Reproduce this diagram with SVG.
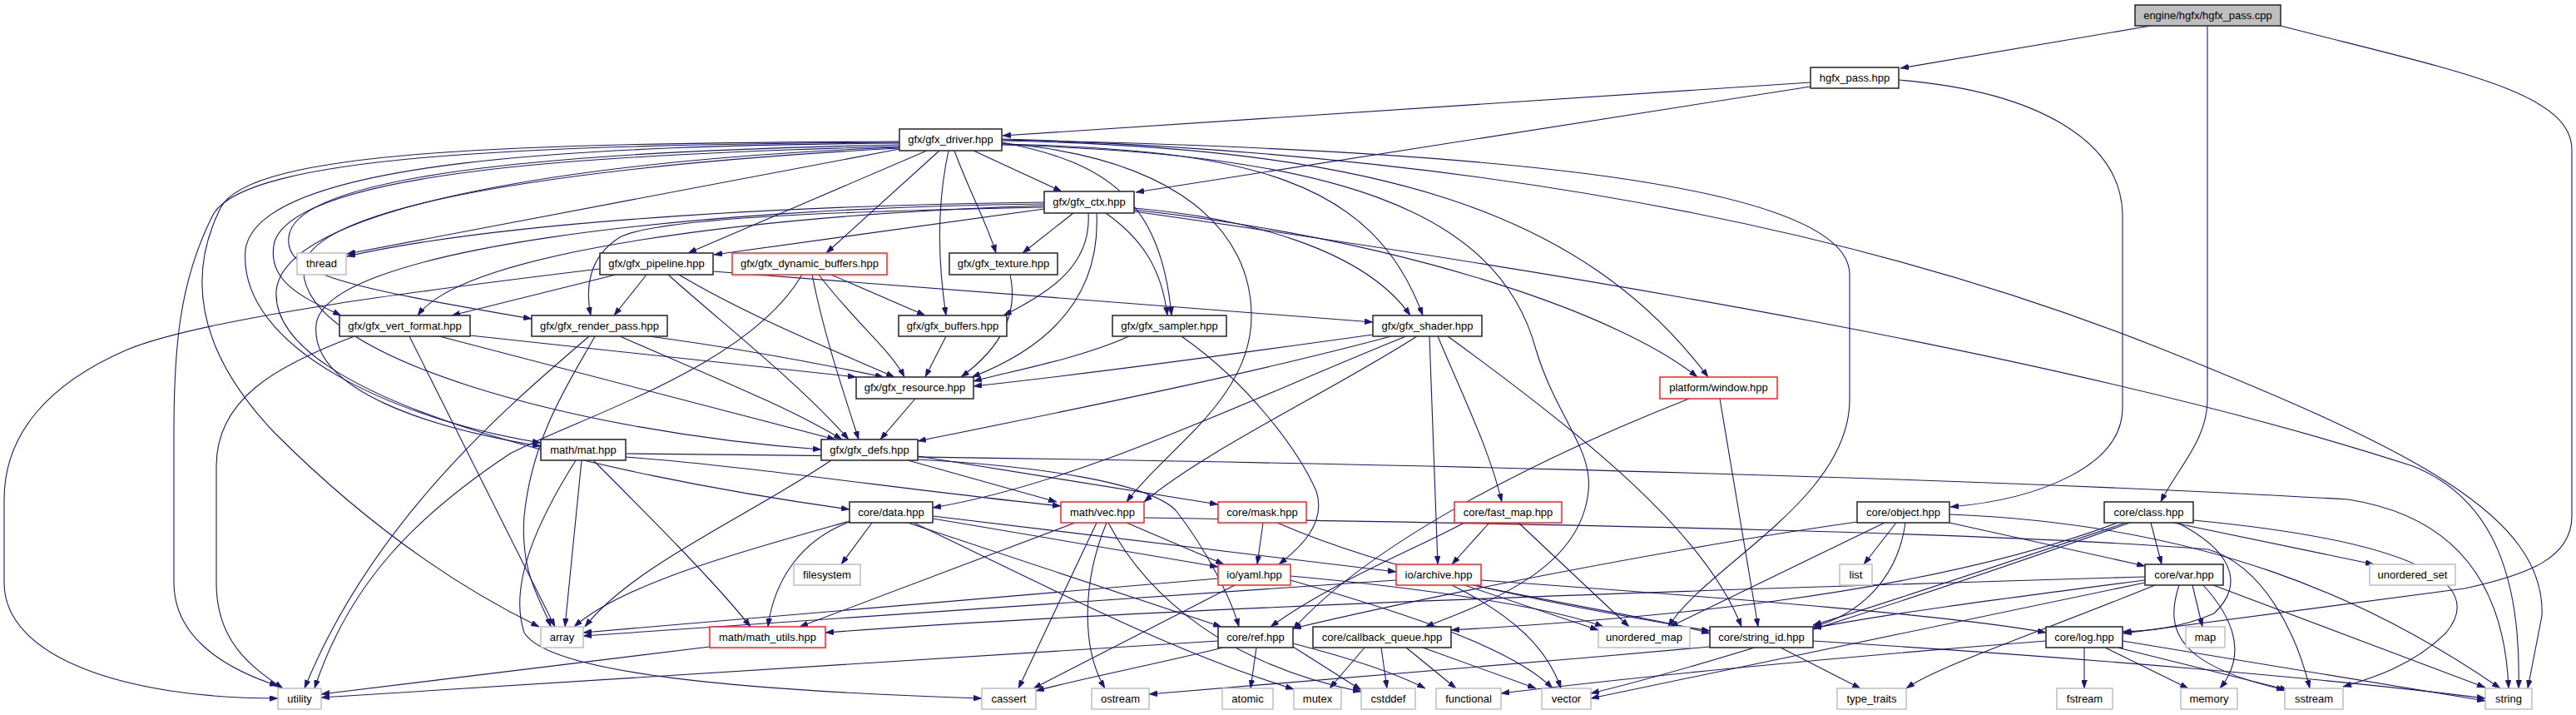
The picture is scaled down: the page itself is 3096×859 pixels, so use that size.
<svg xmlns="http://www.w3.org/2000/svg" width="3096" height="859" viewBox="0 0 3096 859">
<style>
.e{fill:none;stroke:#191970;stroke-width:1.1;marker-end:url(#ah)}
.n rect{fill:#fff;stroke:#303030;stroke-width:1.6}
.r rect{fill:#fff;stroke:#ff2020;stroke-width:1.5}
.l rect{fill:#fff;stroke:#bfbfbf;stroke-width:1.5}
.m rect{fill:#bfbfbf;stroke:#303030;stroke-width:1.6}
text{font-family:'Liberation Sans',Arial,Helvetica,sans-serif;font-size:13px;text-anchor:middle;fill:#000}
</style>
<defs>
<marker id="ah" markerWidth="10" markerHeight="7" refX="10" refY="3.5" orient="auto" markerUnits="userSpaceOnUse">
<path d="M0,0 L10,3.5 L0,7 z" fill="#191970" stroke="#191970" stroke-width="0.5"/>
</marker>
</defs>
<rect width="3096" height="859" fill="#fff"/>
<g id="edges">
<path class="e" d="M2585,31 L2284,82"/>
<path class="e" d="M2653,31 L2653,480 C2653,530 2615,565 2597,603"/>
<path class="e" d="M2741,31 C2950,85 3091,110 3091,180 L3091,620 C3091,670 3040,690 2962,707 L2552,761"/>
<path class="e" d="M2176,99 L1205,163"/>
<path class="e" d="M2176,104 L1365,231"/>
<path class="e" d="M2282,96 C2450,110 2551,170 2551,260 L2551,490 C2551,560 2450,600 2344,609"/>
<path class="e" d="M1170,181 L1276,230"/>
<path class="e" d="M1081,179 L417,305"/>
<path class="e" d="M1114,181 L827,304"/>
<path class="e" d="M1129,181 L993,304"/>
<path class="e" d="M1147,181 C1165,230 1187,270 1197,304"/>
<path class="e" d="M1140,181 C1125,250 1128,320 1137,379"/>
<path class="e" d="M1204,171 C1330,195 1395,240 1408,379"/>
<path class="e" d="M1204,173 C1500,180 1650,215 1710,379"/>
<path class="e" d="M1204,169 C1650,178 1900,250 2053,453"/>
<path class="e" d="M1204,167 C1800,185 2250,280 2600,420 C2900,540 3060,620 3055,740 L3038,827"/>
<path class="e" d="M1204,168 C1700,178 2223,210 2223,330 L2223,480 C2223,600 2050,680 2005,753"/>
<path class="e" d="M1081,176 C720,185 360,205 330,290 C318,340 370,360 410,379"/>
<path class="e" d="M1081,174 C760,180 370,200 348,280 C335,330 420,345 639,383"/>
<path class="e" d="M1081,172 C720,175 310,190 295,300 C285,420 480,505 650,532"/>
<path class="e" d="M1081,170 C620,172 300,180 265,250 C225,330 235,420 330,520 C450,640 560,710 648,753"/>
<path class="e" d="M1081,178 C820,192 380,230 365,320 C355,430 700,520 987,540"/>
<path class="e" d="M1081,177 C720,190 340,245 332,350 C325,480 720,570 1021,612"/>
<path class="e" d="M1081,171 C650,174 290,185 255,260 C215,340 209,420 209,520 L209,700 C209,760 260,800 334,824"/>
<path class="e" d="M1204,174 C1600,185 1800,250 1846,420 C1870,500 1915,540 1909,590 C1900,680 1800,720 1713,753"/>
<path class="e" d="M1204,172 C1420,190 1504,280 1504,380 C1504,480 1400,540 1354,603"/>
<path class="e" d="M1255,243 C1000,246 620,262 417,308"/>
<path class="e" d="M1255,251 L858,306"/>
<path class="e" d="M1290,256 L1229,304"/>
<path class="e" d="M1308,256 C1312,320 1260,352 1206,379"/>
<path class="e" d="M1329,256 C1370,285 1396,320 1403,379"/>
<path class="e" d="M1363,250 C1500,262 1640,300 1695,379"/>
<path class="e" d="M1255,247 C920,258 560,300 502,379"/>
<path class="e" d="M1255,249 C1000,254 790,262 745,285 C705,310 704,350 710,379"/>
<path class="e" d="M1255,245 C820,250 390,300 380,390 C372,470 520,515 650,536"/>
<path class="e" d="M1318,256 C1322,340 1280,410 1168,453"/>
<path class="e" d="M1363,252 C1700,290 1950,380 2040,453"/>
<path class="e" d="M1363,254 C1900,330 2500,430 2900,560 C3000,600 3030,700 3027,827"/>
<path class="e" d="M740,330 L543,379"/>
<path class="e" d="M777,330 L738,379"/>
<path class="e" d="M857,326 L1650,387"/>
<path class="e" d="M816,330 C900,380 1000,420 1075,453"/>
<path class="e" d="M803,330 C870,390 960,460 1020,528"/>
<path class="e" d="M721,323 C540,345 250,380 153,420 C60,460 5,520 5,600 L5,700 C5,790 150,839 334,839"/>
<path class="e" d="M999,330 L1112,379"/>
<path class="e" d="M984,330 C1030,390 1070,420 1087,453"/>
<path class="e" d="M976,330 C990,400 1010,460 1032,528"/>
<path class="e" d="M964,330 C900,440 700,500 613,545 C500,620 420,700 378,827"/>
<path class="e" d="M1214,330 C1225,380 1200,420 1155,453"/>
<path class="e" d="M565,403 L1029,453"/>
<path class="e" d="M528,404 L1004,528"/>
<path class="e" d="M492,404 L667,753"/>
<path class="e" d="M426,404 C330,440 260,480 260,560 L260,700 C260,770 300,800 340,827"/>
<path class="e" d="M780,404 C900,420 1000,440 1062,453"/>
<path class="e" d="M745,404 C850,450 950,490 1012,528"/>
<path class="e" d="M715,404 C690,450 640,520 630,620 C625,690 650,720 662,753"/>
<path class="e" d="M708,404 C620,480 450,620 366,827"/>
<path class="e" d="M1137,404 L1112,453"/>
<path class="e" d="M1357,404 C1300,430 1220,445 1170,458"/>
<path class="e" d="M1420,404 C1500,460 1560,540 1582,590 C1595,630 1560,660 1537,678"/>
<path class="e" d="M1650,402 C1450,430 1300,450 1170,464"/>
<path class="e" d="M1672,404 C1500,450 1300,490 1103,530"/>
<path class="e" d="M1703,404 C1600,470 1450,540 1375,603"/>
<path class="e" d="M1690,404 C1500,480 1300,580 1121,610"/>
<path class="e" d="M1718,404 L1728,678"/>
<path class="e" d="M1728,404 C1760,480 1790,540 1805,603"/>
<path class="e" d="M1740,404 C1900,520 2050,640 2093,753"/>
<path class="e" d="M1100,479 L1058,528"/>
<path class="e" d="M2067,479 L2113,753"/>
<path class="e" d="M2030,479 C1850,550 1650,650 1554,756"/>
<path class="e" d="M699,553 L679,753"/>
<path class="e" d="M713,553 C780,620 860,700 902,753"/>
<path class="e" d="M692,553 C650,620 610,700 630,760 C660,810 900,830 1180,839"/>
<path class="e" d="M752,545 C1500,552 2300,570 2822,600 C2950,620 3010,700 3015,827"/>
<path class="e" d="M752,549 C900,560 1100,590 1275,608"/>
<path class="e" d="M1091,553 L1270,603"/>
<path class="e" d="M1103,548 L1464,606"/>
<path class="e" d="M1103,552 C1250,560 1380,580 1413,613 C1450,660 1480,720 1489,753"/>
<path class="e" d="M999,553 C900,620 760,680 703,753"/>
<path class="e" d="M1048,628 L1011,678"/>
<path class="e" d="M1021,627 C960,650 930,700 923,753"/>
<path class="e" d="M1121,623 L1464,681"/>
<path class="e" d="M1091,628 L1468,753"/>
<path class="e" d="M1021,626 C900,660 750,700 690,753"/>
<path class="e" d="M1098,628 C1250,700 1400,780 1555,828"/>
<path class="e" d="M1121,620 L1678,687"/>
<path class="e" d="M1354,628 L1471,678"/>
<path class="e" d="M1318,628 L1224,827"/>
<path class="e" d="M1330,628 C1300,700 1300,780 1328,827"/>
<path class="e" d="M1292,628 L961,753"/>
<path class="e" d="M1332,628 C1380,720 1480,800 1636,831"/>
<path class="e" d="M1375,622 C1900,630 2400,640 2654,660 C2720,680 2760,760 2776,827"/>
<path class="e" d="M1518,628 L1511,678"/>
<path class="e" d="M1535,628 C1700,700 1950,740 2055,758"/>
<path class="e" d="M1790,628 L1745,678"/>
<path class="e" d="M1825,628 L1958,753"/>
<path class="e" d="M1760,628 C1700,660 1600,700 1527,753"/>
<path class="e" d="M1464,695 L701,760"/>
<path class="e" d="M1484,703 L1242,827"/>
<path class="e" d="M1551,692 C1750,710 1880,735 1927,753"/>
<path class="e" d="M1551,697 C1700,740 1820,780 1866,827"/>
<path class="e" d="M1678,697 L701,764"/>
<path class="e" d="M1760,703 L1921,757"/>
<path class="e" d="M1745,703 C1820,740 1860,780 1876,827"/>
<path class="e" d="M1780,697 C2100,720 2350,740 2459,760"/>
<path class="e" d="M1770,703 C1900,730 2000,745 2055,761"/>
<path class="e" d="M1640,778 L1598,827"/>
<path class="e" d="M1660,778 L1667,827"/>
<path class="e" d="M1690,778 L1750,827"/>
<path class="e" d="M1710,778 L1846,827"/>
<path class="e" d="M1510,778 L1503,827"/>
<path class="e" d="M1470,778 C1380,800 1300,815 1245,830"/>
<path class="e" d="M1464,770 L386,838"/>
<path class="e" d="M1554,777 L1636,829"/>
<path class="e" d="M1554,773 C1620,790 1680,810 1713,827"/>
<path class="e" d="M853,777 L386,834"/>
<path class="e" d="M2055,777 C1800,800 1500,825 1381,834"/>
<path class="e" d="M2140,778 L2236,827"/>
<path class="e" d="M2179,770 C2500,790 2800,815 2987,839"/>
<path class="e" d="M2279,628 L2240,678"/>
<path class="e" d="M2265,628 L2007,753"/>
<path class="e" d="M2290,628 C2280,700 2230,740 2179,753"/>
<path class="e" d="M2232,627 C2000,660 1700,720 1554,755"/>
<path class="e" d="M2343,628 L2578,680"/>
<path class="e" d="M2343,618 C2650,630 2850,720 3005,827"/>
<path class="e" d="M2585,628 L2598,678"/>
<path class="e" d="M2612,628 L2853,678"/>
<path class="e" d="M2617,628 C2680,660 2700,700 2661,737 C2620,755 2580,758 2551,759"/>
<path class="e" d="M2636,625 C2900,650 2990,700 2940,760 C2900,800 2850,815 2816,825"/>
<path class="e" d="M2555,628 C2400,680 2250,730 2179,751"/>
<path class="e" d="M2545,628 C2300,720 1950,745 1744,757"/>
<path class="e" d="M2560,628 C2300,720 2050,800 1912,833"/>
<path class="e" d="M2635,703 L2647,753"/>
<path class="e" d="M2648,703 C2700,760 2690,800 2668,827"/>
<path class="e" d="M2619,703 C2600,760 2620,800 2746,829"/>
<path class="e" d="M2660,703 L2987,826"/>
<path class="e" d="M2590,703 C2450,760 2330,800 2291,827"/>
<path class="e" d="M2578,693 C2000,710 1400,730 992,760"/>
<path class="e" d="M2578,697 C2400,720 2250,740 2179,755"/>
<path class="e" d="M2578,700 C2300,760 2050,810 1912,839"/>
<path class="e" d="M2505,778 L2505,827"/>
<path class="e" d="M2530,778 L2630,827"/>
<path class="e" d="M2545,778 L2750,829"/>
<path class="e" d="M2551,770 L2987,842"/>
<path class="e" d="M2459,770 C2200,790 1950,815 1804,833"/>
</g>
<g id="n_cpp" class="m"><rect x="2566" y="6" width="175" height="25"/><text x="2653.5" y="23">engine/hgfx/hgfx_pass.cpp</text></g>
<g id="n_hgfx_pass" class="n"><rect x="2176" y="81" width="106" height="25"/><text x="2229" y="98">hgfx_pass.hpp</text></g>
<g id="n_driver" class="n"><rect x="1081" y="155" width="123" height="26"/><text x="1142.5" y="172">gfx/gfx_driver.hpp</text></g>
<g id="n_ctx" class="n"><rect x="1255" y="230" width="108" height="26"/><text x="1309" y="247">gfx/gfx_ctx.hpp</text></g>
<g id="n_thread" class="l"><rect x="357" y="304" width="59" height="26"/><text x="386.5" y="321">thread</text></g>
<g id="n_pipeline" class="n"><rect x="721" y="304" width="136" height="26"/><text x="789" y="321">gfx/gfx_pipeline.hpp</text></g>
<g id="n_dynbuf" class="r"><rect x="880" y="304" width="186" height="26"/><text x="973" y="321">gfx/gfx_dynamic_buffers.hpp</text></g>
<g id="n_texture" class="n"><rect x="1141" y="304" width="130" height="26"/><text x="1206" y="321">gfx/gfx_texture.hpp</text></g>
<g id="n_vert" class="n"><rect x="408" y="379" width="157" height="25"/><text x="486.5" y="396">gfx/gfx_vert_format.hpp</text></g>
<g id="n_rpass" class="n"><rect x="639" y="379" width="163" height="25"/><text x="720.5" y="396">gfx/gfx_render_pass.hpp</text></g>
<g id="n_buffers" class="n"><rect x="1080" y="379" width="130" height="25"/><text x="1145" y="396">gfx/gfx_buffers.hpp</text></g>
<g id="n_sampler" class="n"><rect x="1337" y="379" width="137" height="25"/><text x="1405.5" y="396">gfx/gfx_sampler.hpp</text></g>
<g id="n_shader" class="n"><rect x="1650" y="379" width="131" height="25"/><text x="1715.5" y="396">gfx/gfx_shader.hpp</text></g>
<g id="n_resource" class="n"><rect x="1029" y="453" width="141" height="26"/><text x="1099.5" y="470">gfx/gfx_resource.hpp</text></g>
<g id="n_window" class="r"><rect x="1995" y="453" width="141" height="26"/><text x="2065.5" y="470">platform/window.hpp</text></g>
<g id="n_mat" class="n"><rect x="650" y="528" width="102" height="25"/><text x="701" y="545">math/mat.hpp</text></g>
<g id="n_defs" class="n"><rect x="987" y="528" width="116" height="25"/><text x="1045" y="545">gfx/gfx_defs.hpp</text></g>
<g id="n_data" class="n"><rect x="1021" y="603" width="100" height="25"/><text x="1071" y="620">core/data.hpp</text></g>
<g id="n_vec" class="r"><rect x="1275" y="603" width="100" height="25"/><text x="1325" y="620">math/vec.hpp</text></g>
<g id="n_mask" class="r"><rect x="1464" y="603" width="106" height="25"/><text x="1517" y="620">core/mask.hpp</text></g>
<g id="n_fastmap" class="r"><rect x="1748" y="603" width="129" height="25"/><text x="1812.5" y="620">core/fast_map.hpp</text></g>
<g id="n_object" class="n"><rect x="2232" y="603" width="111" height="25"/><text x="2287.5" y="620">core/object.hpp</text></g>
<g id="n_class" class="n"><rect x="2529" y="603" width="107" height="25"/><text x="2582.5" y="620">core/class.hpp</text></g>
<g id="n_filesystem" class="l"><rect x="954" y="678" width="80" height="25"/><text x="994" y="695">filesystem</text></g>
<g id="n_yaml" class="r"><rect x="1464" y="678" width="87" height="25"/><text x="1507.5" y="695">io/yaml.hpp</text></g>
<g id="n_archive" class="r"><rect x="1678" y="678" width="102" height="25"/><text x="1729" y="695">io/archive.hpp</text></g>
<g id="n_list" class="l"><rect x="2211" y="678" width="39" height="25"/><text x="2230.5" y="695">list</text></g>
<g id="n_var" class="n"><rect x="2578" y="678" width="94" height="25"/><text x="2625" y="695">core/var.hpp</text></g>
<g id="n_uset" class="l"><rect x="2848" y="678" width="103" height="25"/><text x="2899.5" y="695">unordered_set</text></g>
<g id="n_array" class="l"><rect x="650" y="753" width="51" height="25"/><text x="675.5" y="770">array</text></g>
<g id="n_mathutils" class="r"><rect x="853" y="753" width="139" height="25"/><text x="922.5" y="770">math/math_utils.hpp</text></g>
<g id="n_ref" class="n"><rect x="1464" y="753" width="90" height="25"/><text x="1509" y="770">core/ref.hpp</text></g>
<g id="n_cbq" class="n"><rect x="1578" y="753" width="166" height="25"/><text x="1661" y="770">core/callback_queue.hpp</text></g>
<g id="n_umap" class="l"><rect x="1921" y="753" width="110" height="25"/><text x="1976" y="770">unordered_map</text></g>
<g id="n_strid" class="n"><rect x="2055" y="753" width="124" height="25"/><text x="2117" y="770">core/string_id.hpp</text></g>
<g id="n_log" class="n"><rect x="2459" y="753" width="92" height="25"/><text x="2505" y="770">core/log.hpp</text></g>
<g id="n_map" class="l"><rect x="2627" y="753" width="47" height="25"/><text x="2650.5" y="770">map</text></g>
<g id="n_utility" class="l"><rect x="334" y="827" width="52" height="25"/><text x="360" y="844">utility</text></g>
<g id="n_cassert" class="l"><rect x="1180" y="827" width="65" height="25"/><text x="1212.5" y="844">cassert</text></g>
<g id="n_ostream" class="l"><rect x="1312" y="827" width="69" height="25"/><text x="1346.5" y="844">ostream</text></g>
<g id="n_atomic" class="l"><rect x="1469" y="827" width="61" height="25"/><text x="1499.5" y="844">atomic</text></g>
<g id="n_mutex" class="l"><rect x="1555" y="827" width="57" height="25"/><text x="1583.5" y="844">mutex</text></g>
<g id="n_cstddef" class="l"><rect x="1636" y="827" width="65" height="25"/><text x="1668.5" y="844">cstddef</text></g>
<g id="n_functional" class="l"><rect x="1726" y="827" width="78" height="25"/><text x="1765" y="844">functional</text></g>
<g id="n_vector" class="l"><rect x="1853" y="827" width="59" height="25"/><text x="1882.5" y="844">vector</text></g>
<g id="n_typetraits" class="l"><rect x="2208" y="827" width="83" height="25"/><text x="2249.5" y="844">type_traits</text></g>
<g id="n_fstream" class="l"><rect x="2472" y="827" width="67" height="25"/><text x="2505.5" y="844">fstream</text></g>
<g id="n_memory" class="l"><rect x="2621" y="827" width="68" height="25"/><text x="2655" y="844">memory</text></g>
<g id="n_sstream" class="l"><rect x="2746" y="827" width="70" height="25"/><text x="2781" y="844">sstream</text></g>
<g id="n_string" class="l"><rect x="2987" y="827" width="56" height="25"/><text x="3015" y="844">string</text></g>
</svg>
